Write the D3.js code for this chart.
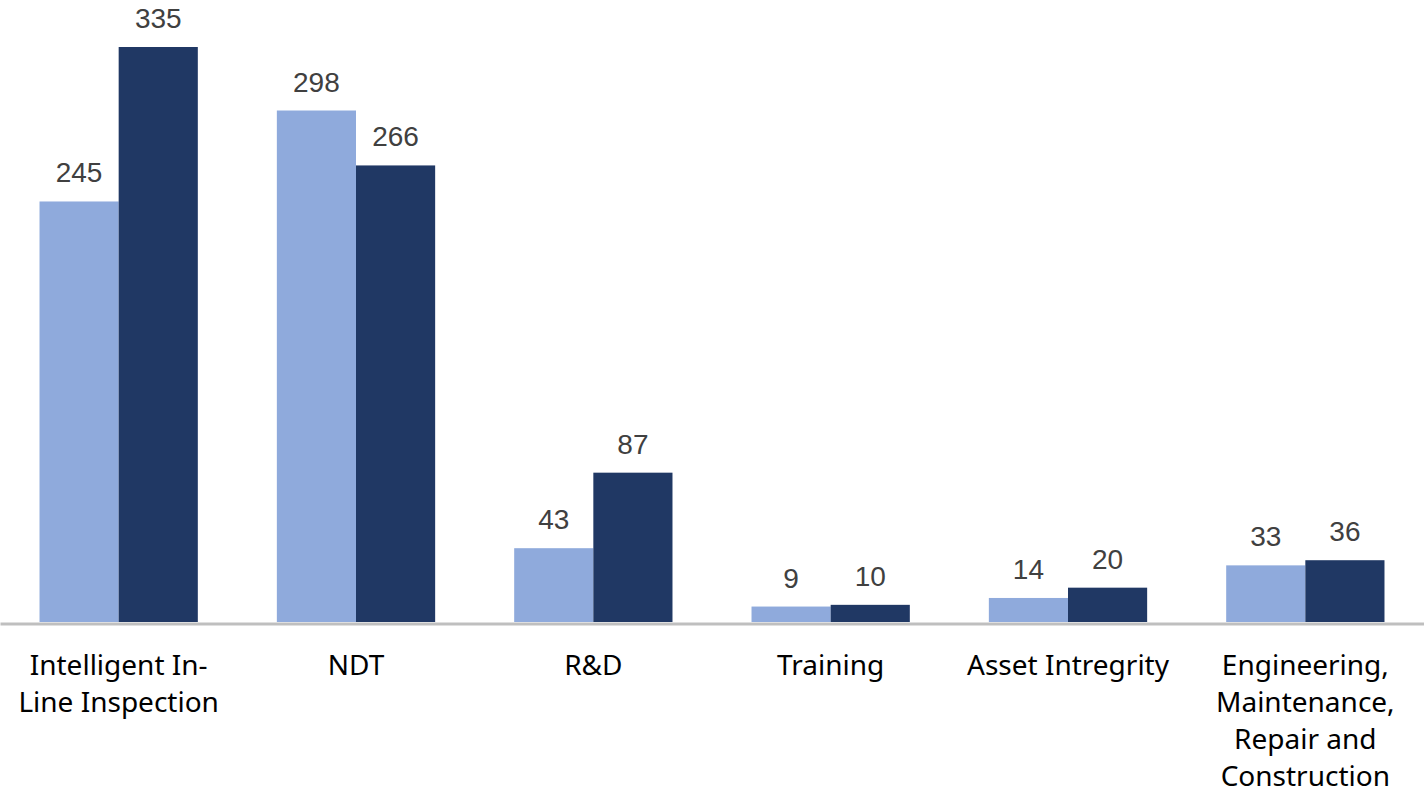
<!DOCTYPE html>
<html>
<head>
<meta charset="utf-8">
<script src="https://cdn.jsdelivr.net/npm/d3@7"></script>
<style>
  body { margin: 0; background: #fff; }
</style>
</head>
<body>
<div id="chart"></div>
<script>
// categories (wrapped as in the original)
const categories = [
  "Intelligent In-Line Inspection",
  "NDT",
  "R&D",
  "Training",
  "Asset Intregrity",
  "Engineering, Maintenance, Repair and Construction"
];
const categoryLines = [
  ["Intelligent In-", "Line Inspection"],
  ["NDT"],
  ["R&D"],
  ["Training"],
  ["Asset Intregrity"],
  ["Engineering,", "Maintenance,", "Repair and", "Construction"]
];
const seriesA = [245, 298, 43, 9, 14, 33];
const seriesB = [335, 266, 87, 10, 20, 36];
const seriesNames = ["A", "B"];
const seriesColors = ["#8FAADC", "#203864"];

let full_width = 1424;
let full_height = 794;
let baseline = 622;

const svg = d3.select('#chart')
  .append('svg')
    .attr('width', full_width)
    .attr('height', full_height);

let x = d3.scaleBand()
  .domain(categories)
  .range([0, full_width])
  .paddingInner(0.333)
  .paddingOuter(0.1665);

let xs = d3.scaleBand()
  .domain(seriesNames)
  .range([0, x.bandwidth()]);

let y = d3.scaleLinear()
  .domain([0, 335])
  .range([baseline, 47]);

const rows = categories.map((c, i) => ({cat: c, values: [seriesA[i], seriesB[i]]}));

const groups = svg.append('g')
  .selectAll('g')
  .data(rows)
  .enter()
  .append('g')
    .attr('transform', d => 'translate(' + x(d.cat) + ',0)');

groups.selectAll('rect')
  .data(d => d.values.map((v, j) => ({s: seriesNames[j], v: v, color: seriesColors[j]})))
  .enter()
  .append('rect')
    .attr('x', d => xs(d.s))
    .attr('y', d => y(d.v))
    .attr('width', xs.bandwidth())
    .attr('height', d => baseline - y(d.v))
    .style('fill', d => d.color);

// value labels
groups.selectAll('text.val')
  .data(d => d.values.map((v, j) => ({s: seriesNames[j], v: v})))
  .enter()
  .append('text')
    .attr('class', 'val')
    .attr('x', d => xs(d.s) + xs.bandwidth() / 2)
    .attr('y', d => y(d.v) - 19)
    .attr('text-anchor', 'middle')
    .style('font-family', '"Liberation Sans", Arial, sans-serif')
    .style('font-size', '28px')
    .style('fill', '#404040')
    .text(d => d.v);

// axis line
const axis = svg.append('g')
  .attr('transform', 'translate(0,' + (baseline + 1.5) + ')')
  .call(d3.axisBottom(x).tickSize(0).tickFormat(''));
axis.select('.domain')
  .attr('stroke', '#BFBFBF')
  .attr('stroke-width', 3);

// category labels
const labels = svg.append('g')
  .selectAll('text')
  .data(categories)
  .enter()
  .append('text')
    .attr('x', d => x(d) + x.bandwidth() / 2)
    .attr('y', 675)
    .attr('text-anchor', 'middle')
    .style('font-family', '"Noto Sans", sans-serif')
    .style('font-size', '28px')
    .style('fill', '#000');

labels.each(function(d, i) {
  d3.select(this).selectAll('tspan')
    .data(categoryLines[i])
    .enter()
    .append('tspan')
      .attr('x', x(d) + x.bandwidth() / 2)
      .attr('dy', (l, k) => k === 0 ? 0 : 37)
      .text(l => l);
});
</script>
</body>
</html>
